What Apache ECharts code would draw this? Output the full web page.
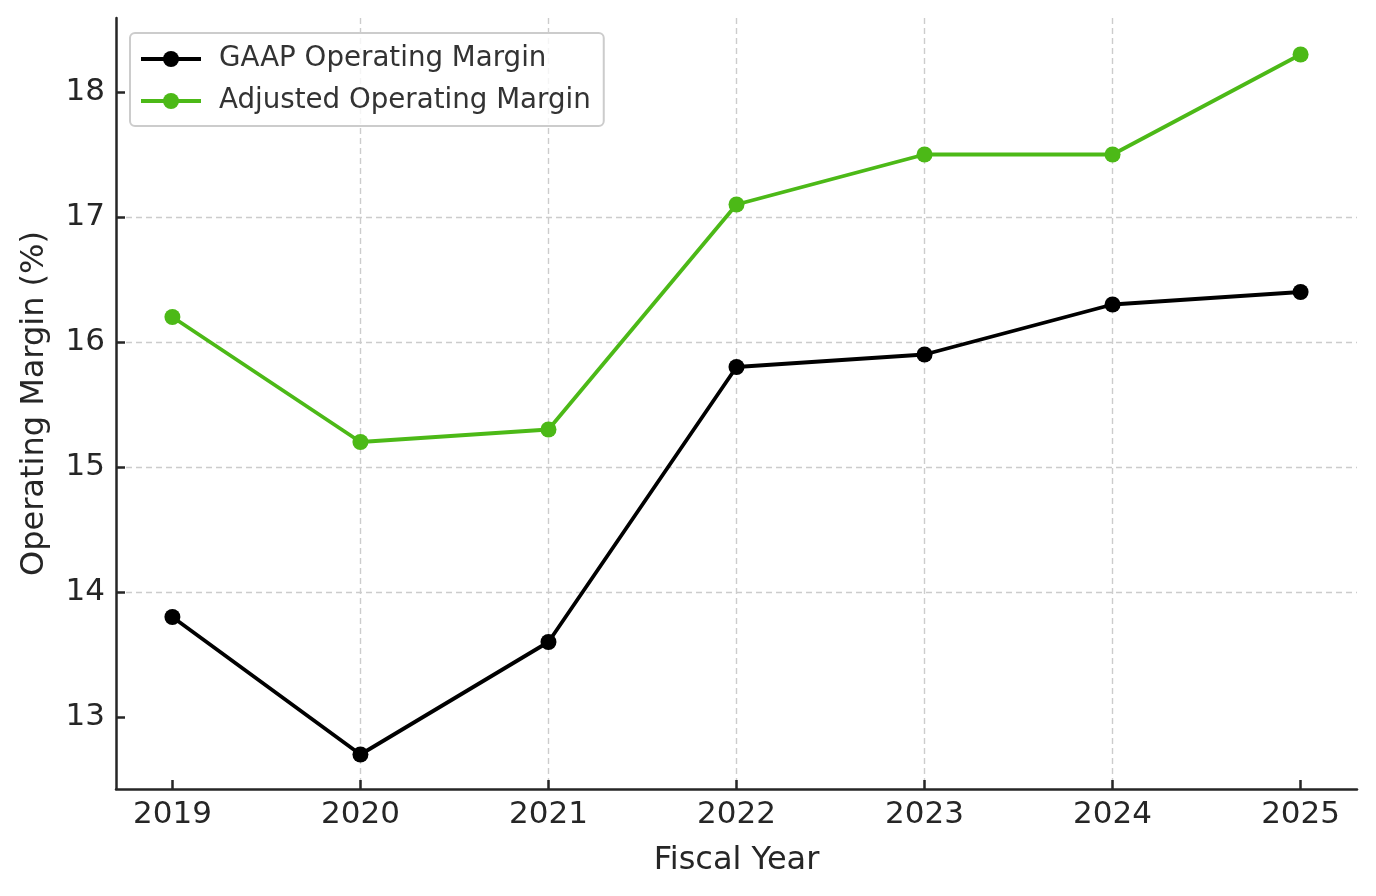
<!DOCTYPE html>
<html><head><meta charset="utf-8">
<script src="https://cdn.jsdelivr.net/npm/echarts@6/dist/echarts.min.js"></script>
<style>html,body{margin:0;padding:0;background:#fff}#c{width:1376px;height:896px}</style>
</head><body><div id="c"></div>
<script>
const years = [2019, 2020, 2021, 2022, 2023, 2024, 2025];
const gaapMargin = [13.8, 12.7, 13.6, 15.8, 15.9, 16.3, 16.4];
const adjustedMargin = [16.2, 15.2, 15.3, 17.1, 17.5, 17.5, 18.3];
const yTicks = [13, 14, 15, 16, 17, 18];
const xTicks = years;

const font = 'DejaVu Sans';
const axisColor = '#262626';
const gridStyle = {color: '#cccccc', type: [6, 4], width: 1.4};

const chart = echarts.init(document.getElementById('c'), null, {renderer: 'canvas'});
chart.setOption({
  animation: false,
  backgroundColor: '#fff',
  grid: {left: 116, top: 18, width: 1241, height: 771, containLabel: false, outerBoundsMode: 'none'},
  legend: {
    left: 130, top: 33, orient: 'vertical',
    padding: [12, 13, 11, 9], itemGap: 14,
    itemWidth: 60, itemHeight: 20,
    backgroundColor: 'rgba(255,255,255,0.8)',
    borderColor: '#cccccc', borderWidth: 2, borderRadius: 5,
    lineStyle: {width: 4},
    textStyle: {fontFamily: font, fontSize: 27.7, color: '#333', padding: [0, 0, 0, 13]},
    data: ['GAAP Operating Margin', 'Adjusted Operating Margin']
  },
  xAxis: {
    type: 'value', min: 2018.7, max: 2025.3,
    name: 'Fiscal Year', nameLocation: 'middle', nameGap: 56,
    nameTextStyle: {fontFamily: font, fontSize: 32, color: axisColor},
    axisLine: {show: true, onZero: false, lineStyle: {color: axisColor, width: 2.5}},
    axisTick: {show: true, inside: true, length: 9, customValues: xTicks, lineStyle: {color: axisColor, width: 2.5}},
    axisLabel: {customValues: xTicks, fontFamily: font, fontSize: 31, color: axisColor, margin: 10, formatter: v => String(v)},
    splitLine: {show: true, showMinLine: false, showMaxLine: false, lineStyle: gridStyle}
  },
  yAxis: {
    type: 'value', min: 12.424, max: 18.592,
    name: 'Operating Margin (%)', nameLocation: 'middle', nameGap: 65, nameRotate: 90,
    nameTextStyle: {fontFamily: font, fontSize: 32, color: axisColor},
    axisLine: {show: true, onZero: false, lineStyle: {color: axisColor, width: 2.5}},
    axisTick: {show: true, inside: true, length: 9, customValues: yTicks, lineStyle: {color: axisColor, width: 2.5}},
    axisLabel: {customValues: yTicks, fontFamily: font, fontSize: 31, color: axisColor, margin: 11, formatter: v => String(v)},
    splitLine: {show: true, showMinLine: false, showMaxLine: false, lineStyle: gridStyle}
  },
  series: [
    {
      name: 'GAAP Operating Margin', type: 'line',
      data: years.map((y, i) => [y, gaapMargin[i]]),
      symbol: 'circle', symbolSize: 16,
      itemStyle: {color: '#000000'},
      lineStyle: {color: '#000000', width: 3.8}
    },
    {
      name: 'Adjusted Operating Margin', type: 'line',
      data: years.map((y, i) => [y, adjustedMargin[i]]),
      symbol: 'circle', symbolSize: 16,
      itemStyle: {color: '#4cb917'},
      lineStyle: {color: '#4cb917', width: 3.8}
    }
  ]
});
</script></body></html>
